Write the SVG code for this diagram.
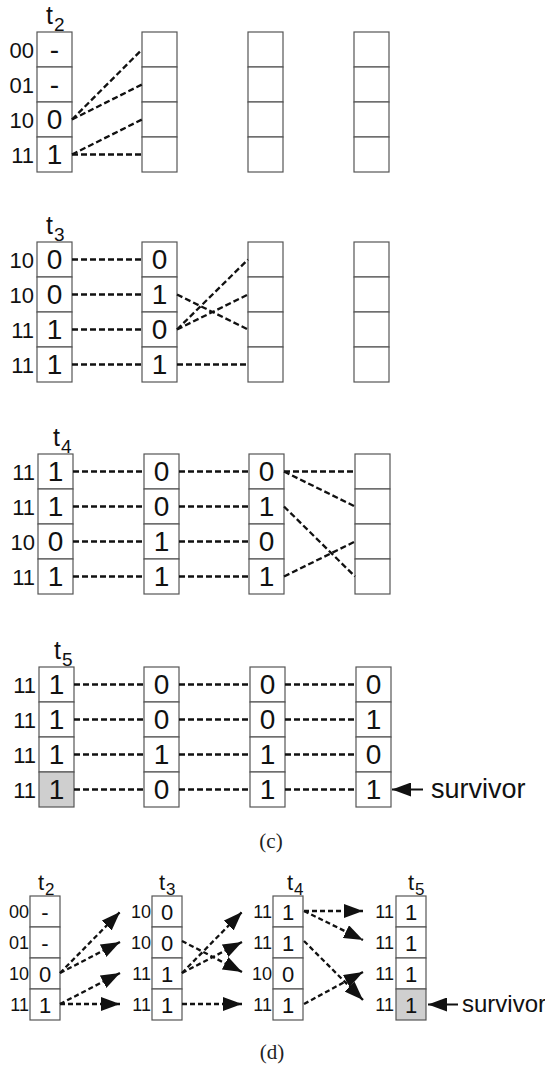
<svg xmlns="http://www.w3.org/2000/svg" width="545" height="1065" viewBox="0 0 545 1065">
<style>
.cell{fill:#fff;stroke:#555;stroke-width:1.2}
.shade{fill:#cfcfcf;stroke:#555;stroke-width:1.2}
.dig{font-family:"Liberation Sans",Arial,sans-serif;font-size:28px;text-anchor:middle;fill:#111}
.lab{font-family:"Liberation Sans",Arial,sans-serif;font-size:22px;text-anchor:end;fill:#111}
.t{font-family:"Liberation Sans",Arial,sans-serif;font-size:25px;fill:#111}
.ts{font-family:"Liberation Sans",Arial,sans-serif;font-size:19px;fill:#111}
.digd{font-family:"Liberation Sans",Arial,sans-serif;font-size:22px;text-anchor:middle;fill:#111}
.labd{font-family:"Liberation Sans",Arial,sans-serif;font-size:18px;text-anchor:end;fill:#111}
.td{font-family:"Liberation Sans",Arial,sans-serif;font-size:22px;fill:#111}
.tsd{font-family:"Liberation Sans",Arial,sans-serif;font-size:17px;fill:#111}
.dash{fill:none;stroke:#111;stroke-width:2.3;stroke-dasharray:6,3}
.dashd{fill:none;stroke:#111;stroke-width:2.3;stroke-dasharray:5,3}
.solid{fill:none;stroke:#111;stroke-width:2}
.cap{font-family:"Liberation Serif","Times New Roman",serif;font-size:21px;text-anchor:middle;fill:#222}
.surv{font-family:"Liberation Sans",Arial,sans-serif;fill:#111}
</style>
<defs>
<marker id="ah" markerUnits="userSpaceOnUse" markerWidth="19" markerHeight="14" refX="19" refY="7" orient="auto">
<path d="M0,0 L19,7 L0,14 z" fill="#111"/>
</marker>
</defs>

<!-- Panel c1: t2 -->
<g id="c1-col1">
<rect class="cell" x="37" y="32" width="35" height="35"/><rect class="cell" x="37" y="67" width="35" height="35"/><rect class="cell" x="37" y="102" width="35" height="35"/><rect class="cell" x="37" y="137" width="35" height="35"/>
<text class="t" x="46" y="24">t</text><text class="ts" x="54" y="31">2</text>
<text class="lab" x="34" y="58">00</text><text class="lab" x="34" y="93">01</text><text class="lab" x="34" y="128">10</text><text class="lab" x="34" y="163">11</text>
<text class="dig" x="54.5" y="59">-</text><text class="dig" x="54.5" y="94">-</text><text class="dig" x="54.5" y="129">0</text><text class="dig" x="54.5" y="164">1</text>
</g>
<g id="c1-col2"><rect class="cell" x="142" y="32" width="35" height="35"/><rect class="cell" x="142" y="67" width="35" height="35"/><rect class="cell" x="142" y="102" width="35" height="35"/><rect class="cell" x="142" y="137" width="35" height="35"/></g>
<g id="c1-col3"><rect class="cell" x="248" y="32" width="35" height="35"/><rect class="cell" x="248" y="67" width="35" height="35"/><rect class="cell" x="248" y="102" width="35" height="35"/><rect class="cell" x="248" y="137" width="35" height="35"/></g>
<g id="c1-col4"><rect class="cell" x="354" y="32" width="35" height="35"/><rect class="cell" x="354" y="67" width="35" height="35"/><rect class="cell" x="354" y="102" width="35" height="35"/><rect class="cell" x="354" y="137" width="35" height="35"/></g>

<!-- Panel c2: t3 -->
<g id="c2-col1">
<rect class="cell" x="37" y="242" width="35" height="35"/><rect class="cell" x="37" y="277" width="35" height="35"/><rect class="cell" x="37" y="312" width="35" height="35"/><rect class="cell" x="37" y="347" width="35" height="35"/>
<text class="t" x="46" y="234">t</text><text class="ts" x="54" y="241">3</text>
<text class="lab" x="34" y="268">10</text><text class="lab" x="34" y="303">10</text><text class="lab" x="34" y="338">11</text><text class="lab" x="34" y="373">11</text>
<text class="dig" x="54.5" y="269">0</text><text class="dig" x="54.5" y="304">0</text><text class="dig" x="54.5" y="339">1</text><text class="dig" x="54.5" y="374">1</text>
</g>
<g id="c2-col2">
<rect class="cell" x="142" y="242" width="35" height="35"/><rect class="cell" x="142" y="277" width="35" height="35"/><rect class="cell" x="142" y="312" width="35" height="35"/><rect class="cell" x="142" y="347" width="35" height="35"/>
<text class="dig" x="159.5" y="269">0</text><text class="dig" x="159.5" y="304">1</text><text class="dig" x="159.5" y="339">0</text><text class="dig" x="159.5" y="374">1</text>
</g>
<g id="c2-col3"><rect class="cell" x="248" y="242" width="35" height="35"/><rect class="cell" x="248" y="277" width="35" height="35"/><rect class="cell" x="248" y="312" width="35" height="35"/><rect class="cell" x="248" y="347" width="35" height="35"/></g>
<g id="c2-col4"><rect class="cell" x="354" y="242" width="35" height="35"/><rect class="cell" x="354" y="277" width="35" height="35"/><rect class="cell" x="354" y="312" width="35" height="35"/><rect class="cell" x="354" y="347" width="35" height="35"/></g>

<!-- Panel c3: t4 -->
<g id="c3-col1">
<rect class="cell" x="38" y="454" width="35" height="35"/><rect class="cell" x="38" y="489" width="35" height="35"/><rect class="cell" x="38" y="524" width="35" height="35"/><rect class="cell" x="38" y="559" width="35" height="35"/>
<text class="t" x="53" y="446">t</text><text class="ts" x="61" y="453">4</text>
<text class="lab" x="35" y="480">11</text><text class="lab" x="35" y="515">11</text><text class="lab" x="35" y="550">10</text><text class="lab" x="35" y="585">11</text>
<text class="dig" x="55.5" y="481">1</text><text class="dig" x="55.5" y="516">1</text><text class="dig" x="55.5" y="551">0</text><text class="dig" x="55.5" y="586">1</text>
</g>
<g id="c3-col2">
<rect class="cell" x="144" y="454" width="35" height="35"/><rect class="cell" x="144" y="489" width="35" height="35"/><rect class="cell" x="144" y="524" width="35" height="35"/><rect class="cell" x="144" y="559" width="35" height="35"/>
<text class="dig" x="161.5" y="481">0</text><text class="dig" x="161.5" y="516">0</text><text class="dig" x="161.5" y="551">1</text><text class="dig" x="161.5" y="586">1</text>
</g>
<g id="c3-col3">
<rect class="cell" x="249" y="454" width="35" height="35"/><rect class="cell" x="249" y="489" width="35" height="35"/><rect class="cell" x="249" y="524" width="35" height="35"/><rect class="cell" x="249" y="559" width="35" height="35"/>
<text class="dig" x="266.5" y="481">0</text><text class="dig" x="266.5" y="516">1</text><text class="dig" x="266.5" y="551">0</text><text class="dig" x="266.5" y="586">1</text>
</g>
<g id="c3-col4"><rect class="cell" x="355" y="454" width="35" height="35"/><rect class="cell" x="355" y="489" width="35" height="35"/><rect class="cell" x="355" y="524" width="35" height="35"/><rect class="cell" x="355" y="559" width="35" height="35"/></g>

<!-- Panel c4: t5 -->
<g id="c4-col1">
<rect class="cell" x="39" y="667" width="35" height="35"/><rect class="cell" x="39" y="702" width="35" height="35"/><rect class="cell" x="39" y="737" width="35" height="35"/><rect class="shade" x="39" y="772" width="35" height="35"/>
<text class="t" x="54" y="659">t</text><text class="ts" x="62" y="666">5</text>
<text class="lab" x="36" y="693">11</text><text class="lab" x="36" y="728">11</text><text class="lab" x="36" y="763">11</text><text class="lab" x="36" y="798">11</text>
<text class="dig" x="56.5" y="694">1</text><text class="dig" x="56.5" y="729">1</text><text class="dig" x="56.5" y="764">1</text><text class="dig" x="56.5" y="799">1</text>
</g>
<g id="c4-col2">
<rect class="cell" x="144" y="667" width="35" height="35"/><rect class="cell" x="144" y="702" width="35" height="35"/><rect class="cell" x="144" y="737" width="35" height="35"/><rect class="cell" x="144" y="772" width="35" height="35"/>
<text class="dig" x="161.5" y="694">0</text><text class="dig" x="161.5" y="729">0</text><text class="dig" x="161.5" y="764">1</text><text class="dig" x="161.5" y="799">0</text>
</g>
<g id="c4-col3">
<rect class="cell" x="250" y="667" width="35" height="35"/><rect class="cell" x="250" y="702" width="35" height="35"/><rect class="cell" x="250" y="737" width="35" height="35"/><rect class="cell" x="250" y="772" width="35" height="35"/>
<text class="dig" x="267.5" y="694">0</text><text class="dig" x="267.5" y="729">0</text><text class="dig" x="267.5" y="764">1</text><text class="dig" x="267.5" y="799">1</text>
</g>
<g id="c4-col4">
<rect class="cell" x="356" y="667" width="35" height="35"/><rect class="cell" x="356" y="702" width="35" height="35"/><rect class="cell" x="356" y="737" width="35" height="35"/><rect class="cell" x="356" y="772" width="35" height="35"/>
<text class="dig" x="373.5" y="694">0</text><text class="dig" x="373.5" y="729">1</text><text class="dig" x="373.5" y="764">0</text><text class="dig" x="373.5" y="799">1</text>
</g>
<g id="c-survivor">
<line class="solid" x1="423" y1="789.5" x2="392" y2="789.5" marker-end="url(#ah)"/>
<text class="surv" x="431" y="798" font-size="27">survivor</text>
</g>
<text id="cap-c" class="cap" x="271" y="848">(c)</text>

<!-- Panel d -->
<g id="d-t2">
<rect class="cell" x="30" y="896" width="30" height="31"/><rect class="cell" x="30" y="927" width="30" height="31"/><rect class="cell" x="30" y="958" width="30" height="31"/><rect class="cell" x="30" y="989" width="30" height="31"/>
<text class="td" x="38" y="890">t</text><text class="tsd" x="45" y="895">2</text>
<text class="labd" x="29" y="918">00</text><text class="labd" x="29" y="949">01</text><text class="labd" x="29" y="980">10</text><text class="labd" x="29" y="1011">11</text>
<text class="digd" x="45" y="920">-</text><text class="digd" x="45" y="951">-</text><text class="digd" x="45" y="982">0</text><text class="digd" x="45" y="1013">1</text>
</g>
<g id="d-t3">
<rect class="cell" x="152" y="896" width="30" height="31"/><rect class="cell" x="152" y="927" width="30" height="31"/><rect class="cell" x="152" y="958" width="30" height="31"/><rect class="cell" x="152" y="989" width="30" height="31"/>
<text class="td" x="159" y="890">t</text><text class="tsd" x="166" y="895">3</text>
<text class="labd" x="151" y="918">10</text><text class="labd" x="151" y="949">10</text><text class="labd" x="151" y="980">11</text><text class="labd" x="151" y="1011">11</text>
<text class="digd" x="167" y="920">0</text><text class="digd" x="167" y="951">0</text><text class="digd" x="167" y="982">1</text><text class="digd" x="167" y="1013">1</text>
</g>
<g id="d-t4">
<rect class="cell" x="273" y="896" width="30" height="31"/><rect class="cell" x="273" y="927" width="30" height="31"/><rect class="cell" x="273" y="958" width="30" height="31"/><rect class="cell" x="273" y="989" width="30" height="31"/>
<text class="td" x="287" y="890">t</text><text class="tsd" x="294" y="895">4</text>
<text class="labd" x="272" y="918">11</text><text class="labd" x="272" y="949">11</text><text class="labd" x="272" y="980">10</text><text class="labd" x="272" y="1011">11</text>
<text class="digd" x="288" y="920">1</text><text class="digd" x="288" y="951">1</text><text class="digd" x="288" y="982">0</text><text class="digd" x="288" y="1013">1</text>
</g>
<g id="d-t5">
<rect class="cell" x="396" y="896" width="30" height="31"/><rect class="cell" x="396" y="927" width="30" height="31"/><rect class="cell" x="396" y="958" width="30" height="31"/><rect class="shade" x="396" y="989" width="30" height="31"/>
<text class="td" x="408" y="890">t</text><text class="tsd" x="415" y="895">5</text>
<text class="labd" x="394" y="918">11</text><text class="labd" x="394" y="949">11</text><text class="labd" x="394" y="980">11</text><text class="labd" x="394" y="1011">11</text>
<text class="digd" x="411" y="920">1</text><text class="digd" x="411" y="951">1</text><text class="digd" x="411" y="982">1</text><text class="digd" x="411" y="1013">1</text>
</g>
<g id="d-survivor">
<line class="solid" x1="458" y1="1004.5" x2="428" y2="1004.5" marker-end="url(#ah)"/>
<text class="surv" x="462" y="1012" font-size="24">survivor</text>
</g>
<text id="cap-d" class="cap" x="272" y="1059">(d)</text>

<g id="connectors">
<!-- c1 -->
<line class="dash" x1="72" y1="119.5" x2="142" y2="49.5"/>
<line class="dash" x1="72" y1="119.5" x2="142" y2="84.5"/>
<line class="dash" x1="72" y1="154.5" x2="142" y2="119.5"/>
<line class="dash" x1="72" y1="154.5" x2="142" y2="154.5"/>
<!-- c2 -->
<line class="dash" x1="72" y1="259.5" x2="142" y2="259.5"/>
<line class="dash" x1="72" y1="294.5" x2="142" y2="294.5"/>
<line class="dash" x1="72" y1="329.5" x2="142" y2="329.5"/>
<line class="dash" x1="72" y1="364.5" x2="142" y2="364.5"/>
<line class="dash" x1="177" y1="294.5" x2="248" y2="329.5"/>
<line class="dash" x1="177" y1="329.5" x2="248" y2="259.5"/>
<line class="dash" x1="177" y1="329.5" x2="248" y2="294.5"/>
<line class="dash" x1="177" y1="364.5" x2="248" y2="364.5"/>
<!-- c3 -->
<line class="dash" x1="73" y1="471.5" x2="144" y2="471.5"/>
<line class="dash" x1="73" y1="506.5" x2="144" y2="506.5"/>
<line class="dash" x1="73" y1="541.5" x2="144" y2="541.5"/>
<line class="dash" x1="73" y1="576.5" x2="144" y2="576.5"/>
<line class="dash" x1="179" y1="471.5" x2="249" y2="471.5"/>
<line class="dash" x1="179" y1="506.5" x2="249" y2="506.5"/>
<line class="dash" x1="179" y1="541.5" x2="249" y2="541.5"/>
<line class="dash" x1="179" y1="576.5" x2="249" y2="576.5"/>
<line class="dash" x1="284" y1="471.5" x2="355" y2="471.5"/>
<line class="dash" x1="284" y1="471.5" x2="355" y2="506.5"/>
<line class="dash" x1="284" y1="506.5" x2="355" y2="576.5"/>
<line class="dash" x1="284" y1="576.5" x2="355" y2="541.5"/>
<!-- c4 -->
<line class="dash" x1="74" y1="684.5" x2="144" y2="684.5"/>
<line class="dash" x1="74" y1="719.5" x2="144" y2="719.5"/>
<line class="dash" x1="74" y1="754.5" x2="144" y2="754.5"/>
<line class="dash" x1="74" y1="789.5" x2="144" y2="789.5"/>
<line class="dash" x1="179" y1="684.5" x2="250" y2="684.5"/>
<line class="dash" x1="179" y1="719.5" x2="250" y2="719.5"/>
<line class="dash" x1="179" y1="754.5" x2="250" y2="754.5"/>
<line class="dash" x1="179" y1="789.5" x2="250" y2="789.5"/>
<line class="dash" x1="285" y1="684.5" x2="356" y2="684.5"/>
<line class="dash" x1="285" y1="719.5" x2="356" y2="719.5"/>
<line class="dash" x1="285" y1="754.5" x2="356" y2="754.5"/>
<line class="dash" x1="285" y1="789.5" x2="356" y2="789.5"/>
<!-- d -->
<line class="dashd" x1="60" y1="973" x2="120" y2="912" marker-end="url(#ah)"/>
<line class="dashd" x1="60" y1="973" x2="120" y2="942" marker-end="url(#ah)"/>
<line class="dashd" x1="60" y1="1004" x2="120" y2="973" marker-end="url(#ah)"/>
<line class="dashd" x1="60" y1="1004" x2="120" y2="1004" marker-end="url(#ah)"/>
<line class="dashd" x1="182" y1="941" x2="242" y2="972" marker-end="url(#ah)"/>
<line class="dashd" x1="182" y1="973" x2="242" y2="912" marker-end="url(#ah)"/>
<line class="dashd" x1="182" y1="973" x2="242" y2="942" marker-end="url(#ah)"/>
<line class="dashd" x1="182" y1="1004" x2="242" y2="1004" marker-end="url(#ah)"/>
<line class="dashd" x1="304" y1="911" x2="363" y2="911" marker-end="url(#ah)"/>
<line class="dashd" x1="304" y1="911" x2="363" y2="940" marker-end="url(#ah)"/>
<line class="dashd" x1="304" y1="941" x2="363" y2="1000" marker-end="url(#ah)"/>
<line class="dashd" x1="304" y1="1004" x2="363" y2="972" marker-end="url(#ah)"/>
</g>
</svg>
